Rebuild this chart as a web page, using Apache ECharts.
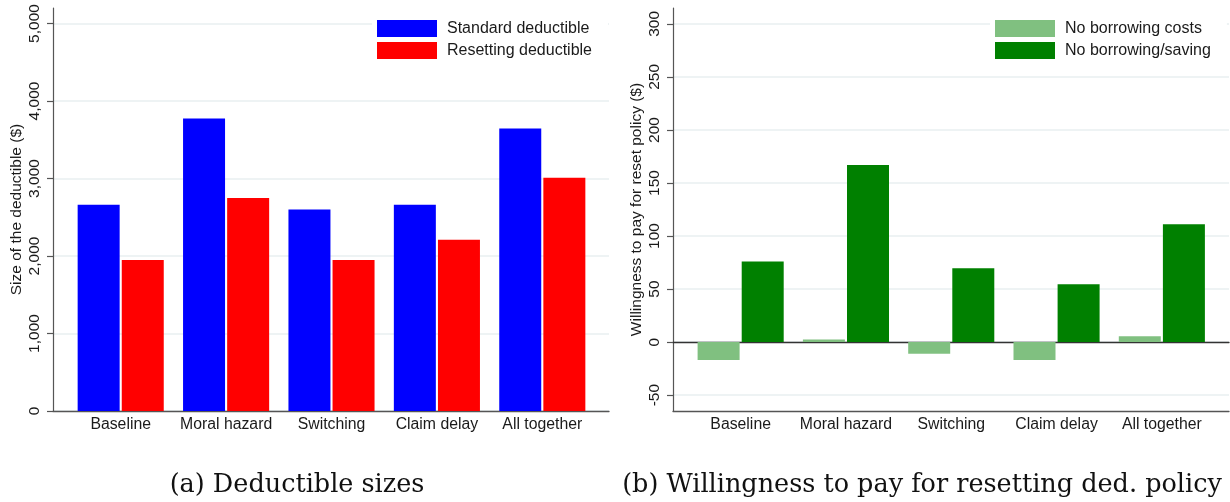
<!DOCTYPE html>
<html>
<head>
<meta charset="utf-8">
<script src="https://cdn.jsdelivr.net/npm/echarts@6/dist/echarts.min.js"></script>
<style>
html,body{margin:0;padding:0;background:#fff;}
#chart{width:1230px;height:502px;}
</style>
</head>
<body>
<div id="chart"></div>
<script>
// ---- data ----
const categories = ['Baseline', 'Moral hazard', 'Switching', 'Claim delay', 'All together'];
const standardDeductible = [2660, 3775, 2600, 2660, 3645];
const resettingDeductible = [1950, 2750, 1950, 2210, 3010];
const noBorrowingCosts = [-17, 2.5, -11, -17, 5.5];
const noBorrowingSaving = [76, 167, 69.5, 54.5, 111];
const leftTicks = [0, 1000, 2000, 3000, 4000, 5000];
const rightTicks = [-50, 0, 50, 100, 150, 200, 250, 300];
const leftRange = [0, 5200];
const rightRange = [-65, 315];
const captions = ['(a) Deductible sizes', '(b) Willingness to pay for resetting ded. policy'];

// ---- style ----
const SANS = 'Liberation Sans, Arial, sans-serif';
const TXT = '#1a1a1a';
const AXIS = '#555555';
const GRIDC = '#e8eff1';

const fmtThousands = v => String(v).replace(/\B(?=(\d{3})+(?!\d))/g, ',');

function valueAxis(grid, range, ticks, fmt, name, visible) {
  return {
    type: 'value', gridIndex: grid, min: range[0], max: range[1], show: visible,
    name: name, nameLocation: 'middle', nameGap: 28, nameRotate: 90,
    nameTextStyle: {fontFamily: SANS, fontSize: 15.5, color: TXT},
    axisLine: {show: true, onZero: false, lineStyle: {color: AXIS, width: 1.2}},
    axisTick: {show: true, length: 6, customValues: ticks, lineStyle: {color: AXIS, width: 1.2}},
    axisLabel: {show: true, customValues: ticks, rotate: 90, margin: 10, formatter: fmt,
      fontFamily: SANS, fontSize: 15.5, color: TXT},
    splitLine: {show: true, lineStyle: {color: GRIDC, width: 1.5}}
  };
}
function hiddenValueAxis(grid, range) {
  return {type: 'value', gridIndex: grid, min: range[0], max: range[1], show: false};
}
function frameXAxis(grid, pos, onZero, color) {
  return {
    type: 'category', gridIndex: grid, data: [''], position: pos,
    axisLine: {show: true, onZero: onZero, lineStyle: {color: color, width: 1.3}},
    axisTick: {show: false}, axisLabel: {show: false}, splitLine: {show: false}
  };
}
function catXAxis(grid) {
  return {
    type: 'category', gridIndex: grid, data: categories,
    axisLine: {show: false}, axisTick: {show: false},
    axisLabel: {show: true, margin: 6, fontFamily: SANS, fontSize: 15.8, color: TXT, interval: 0}
  };
}
function barSeries(name, data, color, xi, yi) {
  return {
    type: 'bar', name: name, data: data, xAxisIndex: xi, yAxisIndex: yi,
    barWidth: 42, barGap: '5%',
    itemStyle: {color: color}, animation: false
  };
}
function legend(left, names) {
  return {
    orient: 'vertical', left: left, top: 14, data: names,
    itemWidth: 60, itemHeight: 17, itemGap: 5, icon: 'rect',
    backgroundColor: '#ffffff', padding: [6, 16, 6, 5],
    textStyle: {fontFamily: SANS, fontSize: 16, color: TXT, padding: [0, 0, 0, 5]},
    selectedMode: false
  };
}

const chart = echarts.init(document.getElementById('chart'), null, {renderer: 'canvas'});
chart.setOption({
  animation: false,
  backgroundColor: '#ffffff',
  grid: [
    {left: 53, right: 621, top: 8, bottom: 91},
    {left: 68, right: 635, top: 8, bottom: 91},
    {left: 673, right: 1, top: 8, bottom: 91},
    {left: 688, right: 15.5, top: 8, bottom: 91}
  ],
  xAxis: [
    frameXAxis(0, 'bottom', false, AXIS),
    catXAxis(1),
    frameXAxis(2, 'bottom', false, AXIS),
    catXAxis(3),
    frameXAxis(2, 'top', true, '#333333')
  ],
  yAxis: [
    valueAxis(0, leftRange, leftTicks, fmtThousands, 'Size of the deductible ($)', true),
    hiddenValueAxis(1, leftRange),
    valueAxis(2, rightRange, rightTicks, v => String(v), 'Willingness to pay for reset policy ($)', true),
    hiddenValueAxis(3, rightRange)
  ],
  legend: [
    legend(372, ['Standard deductible', 'Resetting deductible']),
    legend(990, ['No borrowing costs', 'No borrowing/saving'])
  ],
  series: [
    barSeries('Standard deductible', standardDeductible, '#0000ff', 1, 1),
    barSeries('Resetting deductible', resettingDeductible, '#ff0000', 1, 1),
    barSeries('No borrowing costs', noBorrowingCosts, '#80c080', 3, 3),
    barSeries('No borrowing/saving', noBorrowingSaving, '#008000', 3, 3)
  ],
  graphic: [
    {type: 'text', x: 297, y: 485, style: {text: captions[0], textAlign: 'center', textVerticalAlign: 'middle',
      fontFamily: 'DejaVu Serif', fontSize: 25.5, fill: '#111'}},
    {type: 'text', x: 922, y: 485, style: {text: captions[1], textAlign: 'center', textVerticalAlign: 'middle',
      fontFamily: 'DejaVu Serif', fontSize: 25.5, fill: '#111'}}
  ]
});
</script>
</body>
</html>
